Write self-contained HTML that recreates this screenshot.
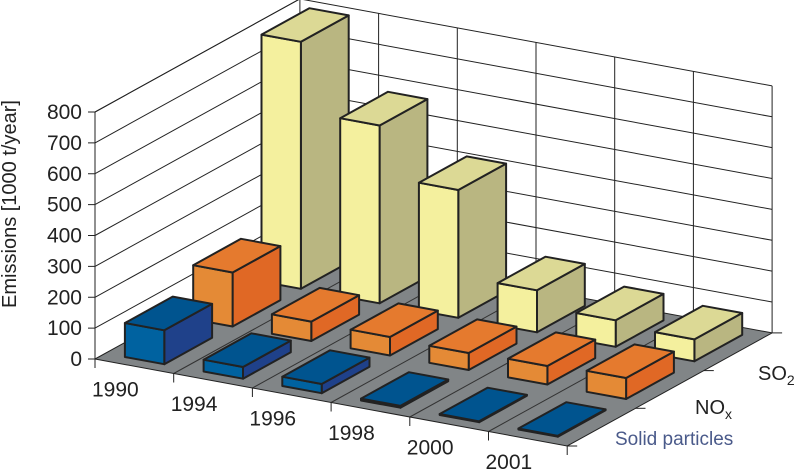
<!DOCTYPE html>
<html><head><meta charset="utf-8">
<style>
body{margin:0;background:#fff;}
svg{display:block;font-family:"Liberation Sans",sans-serif;}
</style></head>
<body>
<svg id="chart" width="800" height="472" viewBox="0 0 800 472" xmlns="http://www.w3.org/2000/svg">
<g id="walls"></g>
<g id="bars"></g>
<g id="labels"></g>
<text transform="translate(16,204) rotate(-90)" text-anchor="middle" font-size="20" fill="#222">Emissions [1000 t/year]</text>
<text x="758" y="380" font-size="20" fill="#222">SO<tspan font-size="14" dy="5">2</tspan></text>
<text x="695" y="414" font-size="20" fill="#222">NO<tspan font-size="14" dy="5">x</tspan></text>
<text x="615" y="445" font-size="19" fill="#4a5a8a">Solid particles</text>
</svg>
<script>
const categories = ["1990","1994","1996","1998","2000","2001"];
const seriesNames = ["Solid particles","NOx","SO2"];
const solidValues = [110, 38, 30, 6, 3, 3];
const noxValues = [175, 63, 60, 55, 60, 68];
const so2Values = [800, 576, 414, 136, 86, 71];
const yTicks = [0,100,200,300,400,500,600,700,800];

const NS = "http://www.w3.org/2000/svg";
const F = [95,359], X = [78.7,14.5], D = [68.3,-37.7], VS = 247/800;
function P(t,u,v){return [F[0]+t*X[0]+u*D[0], F[1]+t*X[1]+u*D[1]-v*VS];}
function pts(a){return a.map(p=>p[0].toFixed(1)+","+p[1].toFixed(1)).join(" ");}
function mk(parent,tag,attrs){const e=document.createElementNS(NS,tag);for(const k in attrs)e.setAttribute(k,attrs[k]);parent.appendChild(e);return e;}
const walls=document.getElementById("walls"), bars=document.getElementById("bars"), labels=document.getElementById("labels");
const nC=categories.length, nS=seriesNames.length, yMax=yTicks[yTicks.length-1];

// floor
let fl=mk(walls,"polygon",{points:pts([P(0,0,0),P(nC,0,0),P(nC,nS,0),P(0,nS,0)]),fill:"#818587",stroke:"none"});


for(let i=1;i<nC;i++){
  const a=P(i,0,0),b=P(i,nS,0);
  let l=mk(walls,"line",{x1:a[0],y1:a[1],x2:b[0],y2:b[1],stroke:"#333","stroke-width":1});
  
  
}
// gridlines
yTicks.forEach(v=>{
  const a=P(0,0,v),b=P(0,nS,v),c=P(nC,nS,v);
  let g=mk(walls,"polyline",{points:pts([a,b,c]),fill:"none",stroke:"#222","stroke-width":1});
  
  
  let tk=mk(walls,"line",{x1:a[0]-7,y1:a[1],x2:a[0],y2:a[1],stroke:"#222","stroke-width":1});
  
  
  let tx=mk(labels,"text",{x:a[0]-13,y:a[1]+7,"text-anchor":"end","font-size":21,fill:"#222"});
  tx.textContent=v;
  
  
});
for(let i=0;i<=nC;i++){
  const a=P(i,nS,0),b=P(i,nS,yMax);
  let l=mk(walls,"line",{x1:a[0],y1:a[1],x2:b[0],y2:b[1],stroke:"#222","stroke-width":1});
  
  
}
{const a=P(0,0,0),b=P(0,0,yMax),c=P(0,nS,yMax);
 let l=mk(walls,"polyline",{points:pts([a,b,c]),fill:"none",stroke:"#222","stroke-width":1});
 
 }
{const a=P(0,0,0),b=P(nC,0,0),c=P(nC,nS,0);
 let l=mk(walls,"polyline",{points:pts([a,b,c]),fill:"none",stroke:"#222","stroke-width":1});
 
 }
for(let i=0;i<=nC;i++){
  const a=P(i,0,0);
  let t=mk(walls,"line",{x1:a[0],y1:a[1],x2:a[0],y2:a[1]+9,stroke:"#222","stroke-width":1});
  
  
}
for(let s=0;s<=nS;s++){
  const a=P(nC,s,0);
  let t=mk(walls,"line",{x1:a[0],y1:a[1],x2:a[0]+10,y2:a[1],stroke:"#222","stroke-width":1});
  
  
}
categories.forEach((c,i)=>{
  const a=P(i+0.5,0,0);
  let tx=mk(labels,"text",{x:a[0]-19,y:a[1]+30,"text-anchor":"middle","font-size":21,fill:"#222"});
  tx.textContent=c;
  
  
});
// bars
const allSeries=[solidValues,noxValues,so2Values];
const colors=[
  {front:"#0062a0",side:"#1f418a",top:"#00548f"},
  {front:"#e48a36",side:"#e06825",top:"#e57a2e"},
  {front:"#f4f09e",side:"#b9b681",top:"#dcd995"}];
const names=["bar-solid-particles","bar-nox","bar-so2"];
for(let s=nS-1;s>=0;s--){
  allSeries[s].forEach((h,i)=>{
    const t0=i+0.25,t1=i+0.75,u0=s+0.15,u1=s+0.85;
    const g=mk(bars,"g",{stroke:"#222","stroke-width":2,"stroke-linejoin":"round"});
    
    
    mk(g,"polygon",{points:pts([P(t1,u0,0),P(t1,u1,0),P(t1,u1,h),P(t1,u0,h)]),fill:colors[s].side});
    mk(g,"polygon",{points:pts([P(t0,u0,0),P(t1,u0,0),P(t1,u0,h),P(t0,u0,h)]),fill:colors[s].front});
    mk(g,"polygon",{points:pts([P(t0,u0,h),P(t1,u0,h),P(t1,u1,h),P(t0,u1,h)]),fill:colors[s].top});
  });
}
</script>
</body></html>
